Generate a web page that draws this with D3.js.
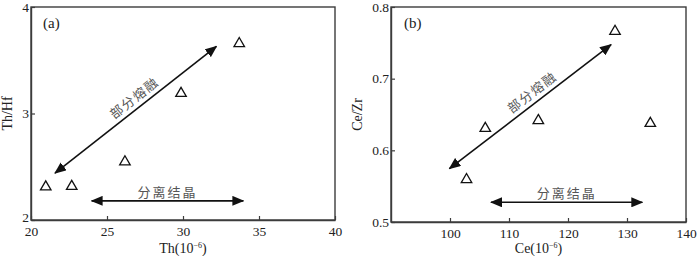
<!DOCTYPE html>
<html><head><meta charset="utf-8">
<script src="https://cdn.jsdelivr.net/npm/d3@7/dist/d3.min.js"></script>
<style>body{margin:0;background:#fff}svg{display:block}</style>
</head><body>
<svg id="c" width="700" height="256"></svg>
<script>
// Panel (a)
const thValues = [20.97, 22.68, 26.18, 29.87, 33.7];
const thHfValues = [2.32, 2.325, 2.556, 3.198, 3.666];
const thTicks = [20, 25, 30, 35, 40];
const thHfTicks = [2, 3, 4];
const arrowA_melt = [[21.58, 2.44], [32.2, 3.63]];
const arrowA_cryst = [[23.99, 2.18], [33.97, 2.18]];
// Panel (b)
const ceValues = [105.98, 114.97, 102.8, 127.97, 133.95];
const ceZrValues = [0.632, 0.643, 0.5606, 0.7675, 0.639];
const ceTicks = [100, 110, 120, 130, 140];
const ceZrTicks = [0.5, 0.6, 0.7, 0.8];
const arrowB_melt = [[99.9, 0.5745], [127.3, 0.7475]];
const arrowB_cryst = [[106.95, 0.5275], [132.6, 0.5275]];

const labelMelt = "部分熔融";
const labelCryst = "分离结晶";

const svg = d3.select("#c");
const defs = svg.append("defs");
defs.append("marker").attr("id","ah").attr("viewBox","0 0 12 10").attr("refX",11).attr("refY",5)
  .attr("markerWidth",12).attr("markerHeight",10).attr("markerUnits","userSpaceOnUse").attr("orient","auto-start-reverse")
  .append("path").attr("d","M0,0 L12,5 L0,10 Z").attr("fill","#111");

const axisColor = "#3c3c3c";

function panel(opt){
  const g = svg.append("g");
  const x = d3.scaleLinear().domain(opt.xDomain).range([opt.left, opt.right]);
  const y = d3.scaleLinear().domain(opt.yDomain).range([opt.bottom, opt.top]);
  g.append("rect").attr("x",opt.left).attr("y",opt.top).attr("width",opt.right-opt.left).attr("height",opt.bottom-opt.top)
    .attr("fill","none").attr("stroke",axisColor).attr("stroke-width",1.4);
  const xa = g.append("g").attr("transform",`translate(0,${opt.bottom})`)
    .call(d3.axisBottom(x).tickValues(opt.xTicks).tickSizeInner(-4).tickSizeOuter(0).tickPadding(6).tickFormat(d3.format("d")));
  const ya = g.append("g").attr("transform",`translate(${opt.left},0)`)
    .call(d3.axisLeft(y).tickValues(opt.yTicks).tickSizeInner(-4).tickSizeOuter(0).tickPadding(6).tickFormat(opt.yFmt));
  [xa,ya].forEach(a=>{
    a.select(".domain").attr("stroke",axisColor).attr("stroke-width",1.4);
    a.selectAll(".tick line").attr("stroke",axisColor).attr("stroke-width",1.2);
    a.selectAll("text").attr("font-family","Liberation Serif").attr("font-size",13.5).attr("fill","#222");
  });
  ya.selectAll(".tick text").attr("x",-2);
  if (opt.nudgeMin) ya.selectAll(".tick text").filter(d=>d===opt.yDomain[0]).attr("y",-3);
  const xt = g.append("text").attr("x",(opt.left+opt.right)/2).attr("y",253)
    .attr("text-anchor","middle").attr("font-family","Liberation Serif").attr("font-size",14).attr("fill","#222");
  xt.append("tspan").text(opt.xName+"(10");
  xt.append("tspan").attr("dy",-5).attr("font-size",8).text("−6");
  xt.append("tspan").attr("dy",5).text(")");
  g.append("text").attr("transform",`translate(${opt.yTitleX},${(opt.top+opt.bottom)/2}) rotate(-90)`)
    .attr("text-anchor","middle").attr("font-family","Liberation Serif").attr("font-size",14).attr("fill","#222").text(opt.yName);
  g.append("text").attr("x",opt.left+opt.labelDx).attr("y",opt.top+21).attr("font-family","Liberation Serif")
    .attr("font-size",15).attr("fill","#222").text(opt.label);
  const tri = d3.symbol().type(d3.symbolTriangle).size(48);
  g.selectAll(".pt").data(opt.xs.map((v,i)=>[v,opt.ys[i]])).join("path")
    .attr("d",tri).attr("transform",d=>`translate(${x(d[0])},${y(d[1])+1})`)
    .attr("fill","none").attr("stroke","#111").attr("stroke-width",1.3);
  const line = d3.line().x(d=>x(d[0])).y(d=>y(d[1]));
  [opt.melt, opt.cryst].forEach(a=>{
    g.append("path").attr("d",line(a)).attr("stroke","#111").attr("stroke-width",1.6).attr("fill","none")
      .attr("marker-start","url(#ah)").attr("marker-end","url(#ah)");
  });
  const p0=[x(opt.melt[0][0]),y(opt.melt[0][1])], p1=[x(opt.melt[1][0]),y(opt.melt[1][1])];
  const ang = Math.atan2(p1[1]-p0[1], p1[0]-p0[0]);
  const t = opt.meltT;
  const cx = p0[0]+(p1[0]-p0[0])*t, cy = p0[1]+(p1[1]-p0[1])*t;
  const off = 10;
  const nx = Math.sin(ang)*off, ny = -Math.cos(ang)*off;
  g.append("text").attr("transform",`translate(${cx+nx},${cy+ny}) rotate(${ang*180/Math.PI})`)
    .attr("text-anchor","middle").attr("dy","0.35em").attr("font-family","Noto Sans CJK SC").attr("font-size",13)
    .attr("letter-spacing",1.5).attr("fill","#555").text(labelMelt);
  const c0 = x(opt.cryst[0][0]), c1 = x(opt.cryst[1][0]);
  g.append("text").attr("x",(c0+c1)/2).attr("y",y(opt.cryst[0][1])-4)
    .attr("text-anchor","middle").attr("font-family","Noto Sans CJK SC").attr("font-size",13)
    .attr("letter-spacing",2).attr("fill","#555").text(labelCryst);
}

panel({left:31,right:335,top:7,bottom:220,xDomain:[20,40],yDomain:[2,4],xTicks:thTicks,yTicks:thHfTicks,
  yFmt:d3.format("d"),xName:"Th",yName:"Th/Hf",yTitleX:12,label:"(a)",labelDx:12,nudgeMin:true,
  xs:thValues,ys:thHfValues,melt:arrowA_melt,cryst:arrowA_cryst,meltT:0.53});
panel({left:391,right:686,top:7,bottom:222,xDomain:[90,140],yDomain:[0.5,0.8],xTicks:ceTicks,yTicks:ceZrTicks,
  yFmt:d3.format(".1f"),xName:"Ce",yName:"Ce/Zr",yTitleX:362,label:"(b)",labelDx:13,
  xs:ceValues,ys:ceZrValues,melt:arrowB_melt,cryst:arrowB_cryst,meltT:0.55});
</script>
</body></html>
